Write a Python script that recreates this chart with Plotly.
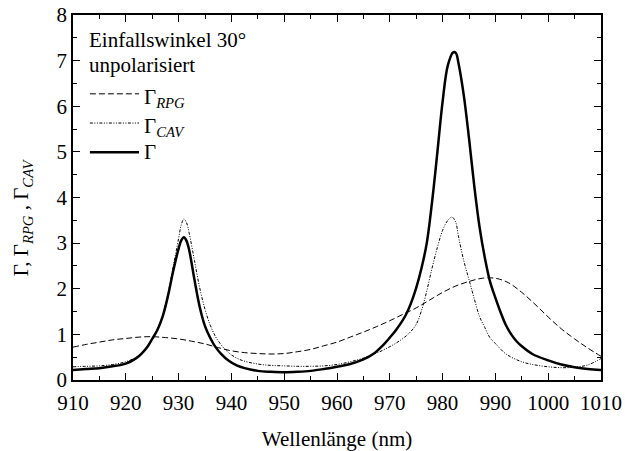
import plotly.graph_objects as go

# Reflectance components vs. wavelength (nm)
wl_rpg = [910, 912.5, 915, 917.5, 920, 922.5, 925, 927.5, 930, 932.5, 935, 937.5, 940,
          942.5, 945, 947.5, 950, 952.5, 955, 957.5, 960, 962.5, 965, 967.5, 970,
          972.5, 975, 977.5, 980, 982.5, 985, 987.5, 990, 992.5, 995, 997.5, 1000,
          1002.5, 1005, 1007.5, 1010]
g_rpg = [0.72, 0.78, 0.83, 0.88, 0.91, 0.94, 0.95, 0.93, 0.90, 0.85, 0.79, 0.71, 0.64,
         0.60, 0.58, 0.57, 0.58, 0.62, 0.67, 0.75, 0.83, 0.94, 1.05, 1.17, 1.30,
         1.44, 1.58, 1.75, 1.92, 2.06, 2.16, 2.23, 2.23, 2.13, 1.92, 1.66, 1.38,
         1.12, 0.90, 0.70, 0.52]

wl_cav = [910, 912.5, 915, 917.5, 920, 922, 923, 924, 925, 926, 927, 928, 929, 930,
          930.5, 931, 931.5, 932, 933, 934, 935, 936, 937, 938, 939, 940, 942, 945,
          947.5, 950, 952.5, 955, 957.5, 960, 962.5, 965, 967.5, 970, 972, 973.7,
          975, 976, 977, 978, 979, 980, 981, 981.8, 982.5, 983, 984, 985, 986, 987,
          988, 989, 990, 992, 995, 997.5, 1000, 1002.5, 1005, 1007.5, 1010]
g_cav = [0.29, 0.30, 0.31, 0.34, 0.40, 0.50, 0.60, 0.73, 0.90, 1.12, 1.42, 1.90, 2.50, 3.10,
         3.40, 3.53, 3.45, 3.22, 2.62, 2.02, 1.55, 1.20, 0.95, 0.78, 0.65, 0.55, 0.43, 0.35,
         0.32, 0.31, 0.30, 0.30, 0.31, 0.34, 0.40, 0.48, 0.59, 0.73, 0.87, 1.03,
         1.22, 1.52, 1.95, 2.45, 2.90, 3.28, 3.50, 3.57, 3.45, 3.15, 2.62, 2.20, 1.78, 1.39,
         1.15, 0.92, 0.80, 0.57, 0.40, 0.33, 0.29, 0.27, 0.28, 0.33, 0.47]

wl_tot = [910, 912.5, 915, 917.5, 920, 922, 923, 924, 925, 926, 927, 928, 929, 930,
          930.5, 931, 931.5, 932, 933, 934, 935, 936, 937, 938, 939.5, 941, 942.5,
          945, 947.5, 950, 952.5, 955, 957.5, 960, 962.5, 965, 967, 968.7, 970, 971,
          972, 973, 974, 975, 976, 977, 978, 979, 980, 981, 982, 982.5, 983, 984,
          985, 986, 987, 988, 989, 990, 991, 992, 993, 994, 995, 997, 1000, 1002.5,
          1005, 1007.5, 1010]
g_tot = [0.22, 0.24, 0.26, 0.30, 0.36, 0.48, 0.58, 0.71, 0.90, 1.10, 1.40, 1.85, 2.40, 2.88,
         3.06, 3.13, 3.05, 2.85, 2.20, 1.60, 1.18, 0.92, 0.72, 0.58, 0.42, 0.32, 0.26,
         0.20, 0.18, 0.17, 0.18, 0.20, 0.24, 0.29, 0.35, 0.45, 0.58, 0.76, 0.93, 1.07,
         1.23, 1.42, 1.68, 2.02, 2.45, 3.00, 3.90, 4.98, 6.10, 6.90, 7.18, 7.17, 6.95, 6.25,
         5.30, 4.25, 3.35, 2.68, 2.15, 1.80, 1.48, 1.20, 1.00, 0.85, 0.74, 0.57, 0.43, 0.34,
         0.28, 0.24, 0.22]

x_ticks = list(range(910, 1011, 10))
y_ticks = list(range(0, 9))

serif = "Liberation Serif"
FS = 21

dash_rpg = "6px,3px"
dash_cav = "3px,1.5px,1px,1.5px,1px,1.5px"

fig = go.Figure()
fig.add_trace(go.Scatter(
    x=wl_rpg, y=g_rpg, mode="lines",
    line=dict(color="black", width=1, dash=dash_rpg, shape="spline", smoothing=1),
))
fig.add_trace(go.Scatter(
    x=wl_cav, y=g_cav, mode="lines",
    line=dict(color="black", width=1, dash=dash_cav, shape="spline", smoothing=1),
))
fig.add_trace(go.Scatter(
    x=wl_tot, y=g_tot, mode="lines",
    line=dict(color="black", width=2.5, shape="spline", smoothing=1),
))

axis_common = dict(
    showgrid=False, zeroline=False, showline=True, linecolor="black", linewidth=1.5,
    mirror="allticks", ticks="inside", ticklen=7, tickwidth=1.2, tickcolor="black",
    tickfont=dict(family=serif, size=FS, color="black"), automargin=False,
)

fig.update_xaxes(
    range=[910, 1010], tickvals=x_ticks, ticktext=[str(v) for v in x_ticks],
    minor=dict(dtick=5, ticks="inside", ticklen=4, tickcolor="black", tickwidth=1),
    ticklabelstandoff=3,
    title=dict(text="Wellenlänge (nm)", font=dict(family=serif, size=FS, color="black"),
               standoff=18),
    **axis_common,
)
fig.update_yaxes(
    range=[0, 8], tickvals=y_ticks, ticktext=[str(v) for v in y_ticks],
    minor=dict(dtick=0.5, ticks="inside", ticklen=4, tickcolor="black", tickwidth=1),
    **axis_common,
)

# Vertical y-axis label
fig.add_annotation(xref="paper", yref="paper", x=-0.097, y=0.445,
                   text="Γ, Γ<sub><i>RPG</i></sub> , Γ<sub><i>CAV</i></sub>",
                   textangle=-90, showarrow=False, xanchor="center", yanchor="middle",
                   font=dict(family=serif, size=FS, color="black"))

# Legend block drawn in the upper-left corner of the plot area
legend_x0, legend_x1, label_x = 0.032, 0.125, 0.131
entries = [
    ("Γ<sub><i>RPG</i></sub>", 0.784, dict(width=1, dash=dash_rpg)),
    ("Γ<sub><i>CAV</i></sub>", 0.704, dict(width=1, dash=dash_cav)),
    ("Γ", 0.624, dict(width=2.5)),
]
for label, yy, ln in entries:
    fig.add_shape(type="line", xref="paper", yref="paper",
                  x0=legend_x0, x1=legend_x1, y0=yy, y1=yy,
                  line=dict(color="black", **ln))
    has_sub = "<sub>" in label
    fig.add_annotation(xref="paper", yref="paper", x=label_x, y=yy, text=label,
                       showarrow=False, xanchor="left", yanchor="middle",
                       yshift=-4 if has_sub else 0,
                       font=dict(family=serif, size=FS, color="black"))

for text, yy in [("Einfallswinkel 30°", 0.932), ("unpolarisiert", 0.862)]:
    fig.add_annotation(xref="paper", yref="paper", x=0.026, y=yy, text=text,
                       showarrow=False, xanchor="left", yanchor="middle",
                       font=dict(family=serif, size=FS, color="black"))

fig.update_layout(
    width=625, height=451,
    margin=dict(l=73, r=24, t=15, b=71),
    paper_bgcolor="white", plot_bgcolor="white",
    showlegend=False,
)

fig.write_html("out.html")
